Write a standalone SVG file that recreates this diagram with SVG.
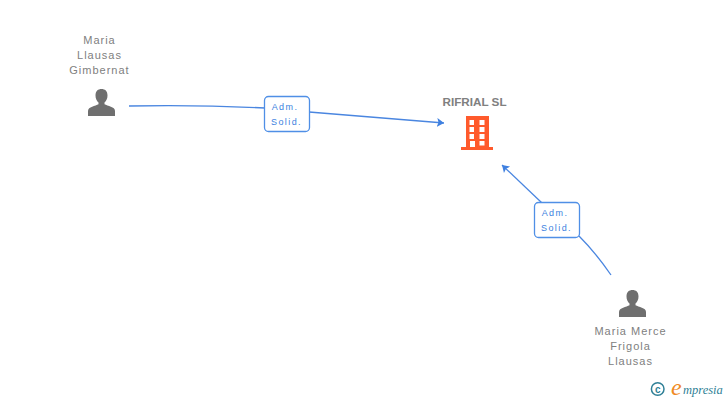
<svg xmlns="http://www.w3.org/2000/svg" width="728" height="400" viewBox="0 0 728 400">
<style>
text{font-family:"Liberation Sans",Arial,sans-serif}
.n{font-size:11px;fill:#808080;text-anchor:middle;letter-spacing:1px}
.t{font-size:11.700px;font-weight:bold;fill:#808080;text-anchor:middle}
.l{font-size:9px;fill:#3b7fe0;text-anchor:middle;letter-spacing:1.400px}
.b{fill:#fff;stroke:#4f8fe6;stroke-width:1.300}
.c{fill:none;stroke:#4a86e0;stroke-width:1.300}
.p{fill:#6f6f6f}
.w{font-style:italic;font-family:"Liberation Serif",serif}
</style>
<defs>
<marker id="a" markerUnits="userSpaceOnUse" markerWidth="10" markerHeight="10" refX="7" refY="4.500" orient="auto"><path d="M0 0L7 4.500L0 9L1.500 4.500Z" fill="#3f80e0"/></marker>
<path id="person" d="M-6 -21C-6 -25.500 -3.500 -27.500 0 -27.500C3.500 -27.500 6 -25.500 6 -21C6 -18 4.800 -15.500 3 -14L3 -12.300C6 -10.500 13.500 -10 13.500 -5.500L13.500 -0.500L-13.500 -0.500L-13.500 -5.500C-13.500 -10 -6 -10.500 -3 -12.300L-3 -14C-4.800 -15.500 -6 -18 -6 -21Z"/>
</defs>
<g id="connectors">
<path class="c" d="M129 106C180 105 225 106 265 108"/>
<path class="c" d="M309 112L444 123" marker-end="url(#a)"/>
<path class="c" d="M611 275C600 259 590 247 579 236"/>
<path class="c" d="M542 203L502 165" marker-end="url(#a)"/>
</g>
<g id="node-maria-llausas">
<text class="n" x="99.500" y="44">Maria</text>
<text class="n" x="99.500" y="59">Llausas</text>
<text class="n" x="99.500" y="74">Gimbernat</text>
<use href="#person" class="p" x="101.500" y="116.500"/>
</g>
<g id="node-rifrial">
<text class="t" x="474.500" y="106">RIFRIAL SL</text>
<path fill="#ff5a2c" fill-rule="evenodd" d="M466 116H489V147H493V150H461V147H466ZM469.500 120V125H474V120ZM479.500 120V125H484.500V120ZM469.500 127V132H474V127ZM479.500 127V132H484.500V127ZM469.500 134V139H474V134ZM479.500 134V139H484.500V134ZM470 141V147H475V141ZM479.500 141V145.500H484.500V141Z"/>
</g>
<g id="node-maria-merce">
<use href="#person" class="p" x="632.500" y="317.500"/>
<text class="n" x="630.500" y="335">Maria Merce</text>
<text class="n" x="630.500" y="350">Frigola</text>
<text class="n" x="630.500" y="365">Llausas</text>
</g>
<g id="label-1">
<rect class="b" x="264.500" y="96.500" width="45" height="35" rx="4"/>
<text class="l" x="285" y="110">Adm.</text>
<text class="l" x="286.500" y="125">Solid.</text>
</g>
<g id="label-2">
<rect class="b" x="534.500" y="202.500" width="45" height="35" rx="4"/>
<text class="l" x="555" y="216">Adm.</text>
<text class="l" x="556.500" y="231">Solid.</text>
</g>
<g id="watermark">
<circle cx="657.700" cy="389" r="6.300" fill="none" stroke="#2f7f96" stroke-width="1.500"/>
<text x="657.700" y="392.500" font-size="10" font-weight="bold" fill="#2f7f96" text-anchor="middle">c</text>
<text class="w" x="671" y="395" font-size="24" fill="#f08a24">e</text>
<text class="w" x="683" y="394" font-size="12.500" fill="#2f7f96">mpresia</text>
</g>
</svg>
